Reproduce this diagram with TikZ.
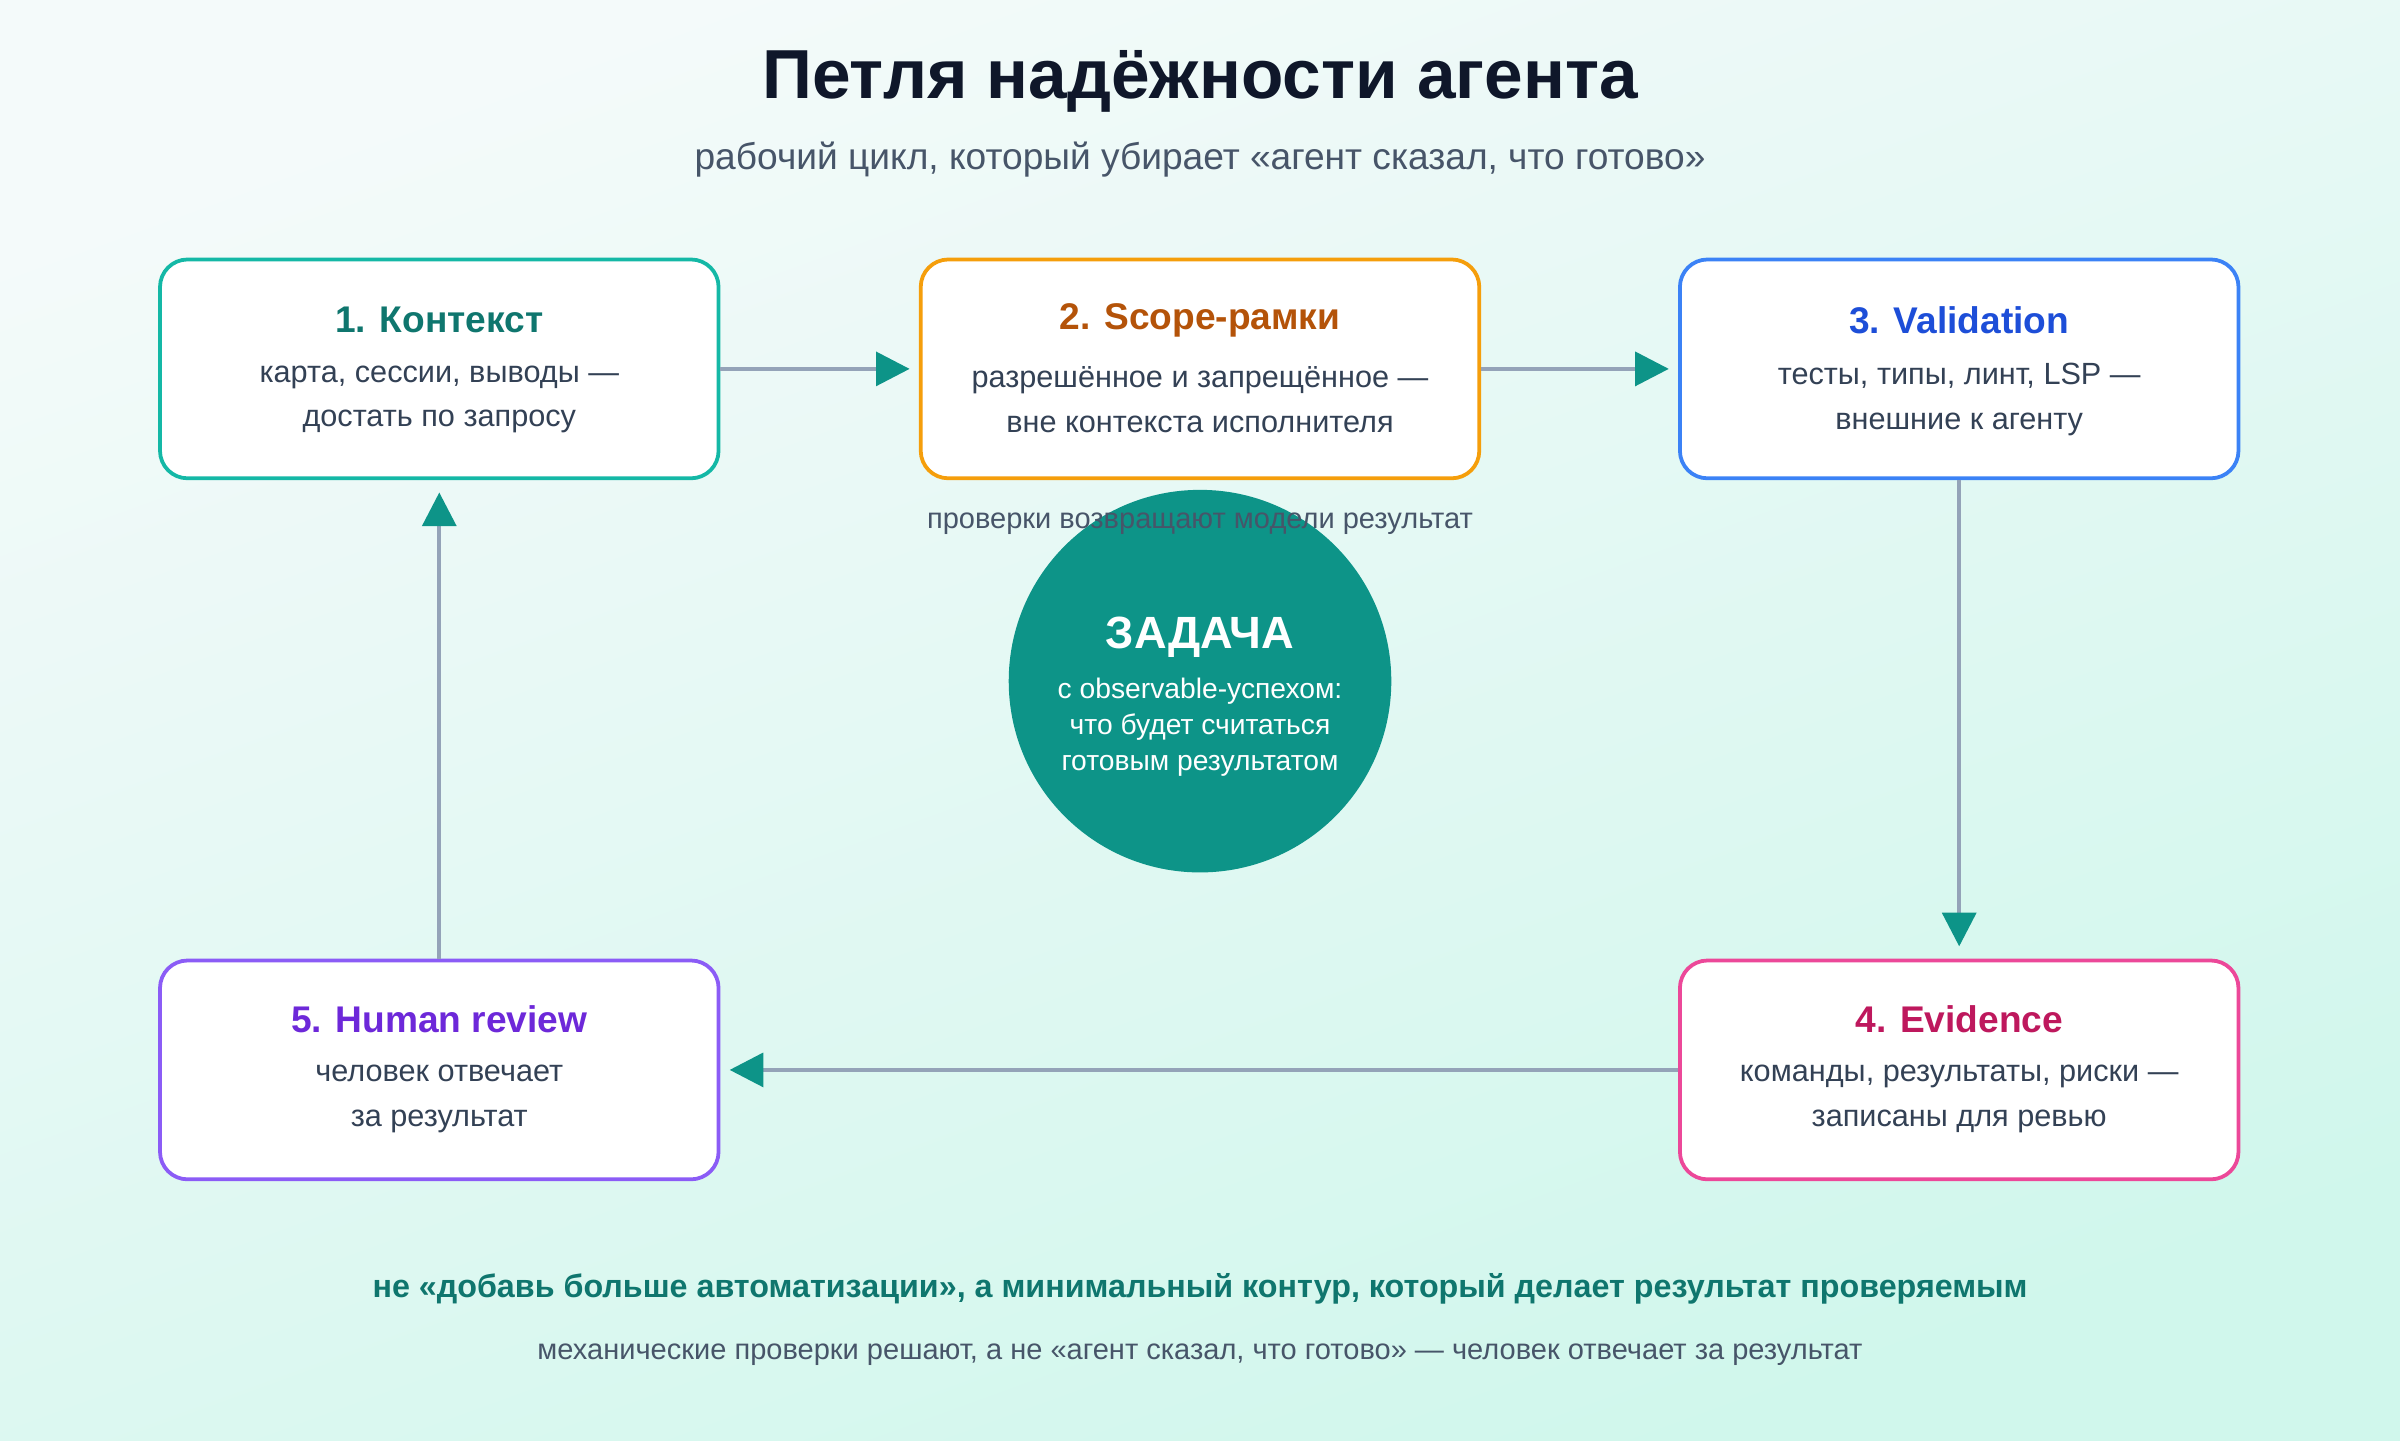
\documentclass[tikz,border=0pt]{standalone}
\usepackage{fontspec}
\setmainfont{Liberation Sans}
\usetikzlibrary{arrows.meta,positioning}
\definecolor{bgtop}{HTML}{F4FAFA}
\definecolor{bgbot}{HTML}{D0F7EC}
\definecolor{ink}{HTML}{0F172A}
\definecolor{body}{HTML}{334155}
\definecolor{muted}{HTML}{475569}
\definecolor{wire}{HTML}{94A3B8}
\definecolor{tealc}{HTML}{0D9488}
\definecolor{ctxb}{HTML}{14B8A6}\definecolor{ctxt}{HTML}{0F766E}
\definecolor{scpb}{HTML}{F59E0B}\definecolor{scpt}{HTML}{B45309}
\definecolor{valb}{HTML}{3B82F6}\definecolor{valt}{HTML}{1D4ED8}
\definecolor{evib}{HTML}{EC4899}\definecolor{evit}{HTML}{BE185D}
\definecolor{humb}{HTML}{8B5CF6}\definecolor{humt}{HTML}{6D28D9}
\tikzset{
  step/.style={draw=#1, line width=1.4pt, fill=white, rounded corners=0.36cm,
    minimum width=7.3cm, minimum height=2.86cm},
  head/.style={font=\bfseries\fontsize{13.8}{16}\selectfont, text=#1},
  desc/.style={font=\fontsize{11.4}{16.5}\selectfont, text=body, align=center},
  flow/.style={draw=wire, line width=1.6pt,
    -{Triangle[length=0.44cm,width=0.44cm,color=tealc]}},
}
\begin{document}
\begin{tikzpicture}[x=0.02cm,y=-0.02cm]
  % background
  \shade[top color=bgtop, bottom color=bgbot, shading angle=20] (0,0) rectangle (1568,941);
  \useasboundingbox (0,0) rectangle (1568,941);

  % title
  \node[font=\bfseries\fontsize{25.8}{30}\selectfont, text=ink] (title) at (784,53) {Петля надёжности агента};
  \node[font=\fontsize{13.8}{16}\selectfont, text=muted] (subtitle) at (784,104) {рабочий цикл, который убирает «агент сказал, что готово»};

  % steps
  \node[step=ctxb] (ctx) at (287,241) {};
  \node[head=ctxt] at (287,209) {1. Контекст};
  \node[desc] at (287,261) {карта, сессии, выводы —\\достать по запросу};

  \node[step=scpb] (scp) at (784,241) {};
  \node[head=scpt] at (784,209) {2. Scope-рамки};
  \node[desc] at (784,261) {разрешённое и запрещённое —\\вне контекста исполнителя};

  \node[step=valb] (val) at (1280,241) {};
  \node[head=valt] at (1280,209) {3. Validation};
  \node[desc] at (1280,261) {тесты, типы, линт, LSP —\\внешние к агенту};

  \node[step=evib] (evi) at (1280,699) {};
  \node[head=evit] at (1280,666) {4. Evidence};
  \node[desc] at (1280,718) {команды, результаты, риски —\\записаны для ревью};

  \node[step=humb] (hum) at (287,699) {};
  \node[head=humt] at (287,666) {5. Human review};
  \node[desc] at (287,718) {человек отвечает\\за результат};

  % task
  \node[circle, fill=tealc, minimum size=5cm] (task) at (784,445) {};
  \node[font=\bfseries\fontsize{16.8}{20}\selectfont, text=white] at (784,416) {ЗАДАЧА};
  \node[font=\fontsize{10.5}{13.4}\selectfont, text=white, align=center] at (784,475) {с observable-успехом:\\что будет считаться\\готовым результатом};
  \node[font=\fontsize{10.8}{12}\selectfont, text=muted] (note) at (784,342) {проверки возвращают модели результат};

  % flows
  \draw[flow] (ctx.east) -- ([xshift=-0.12cm]scp.west);
  \draw[flow] (scp.east) -- ([xshift=-0.12cm]val.west);
  \draw[flow] (val.south) -- ([yshift=0.16cm]evi.north);
  \draw[flow] (evi.west) -- ([xshift=0.12cm]hum.east);
  \draw[flow] (hum.north) -- ([yshift=-0.16cm]ctx.south);

  % footer
  \node[font=\bfseries\fontsize{12}{14}\selectfont, text=ctxt] (moral) at (784,842) {не «добавь больше автоматизации», а минимальный контур, который делает результат проверяемым};
  \node[font=\fontsize{10.8}{12}\selectfont, text=muted] (footnote) at (784,885) {механические проверки решают, а не «агент сказал, что готово» — человек отвечает за результат};
\end{tikzpicture}
\end{document}
